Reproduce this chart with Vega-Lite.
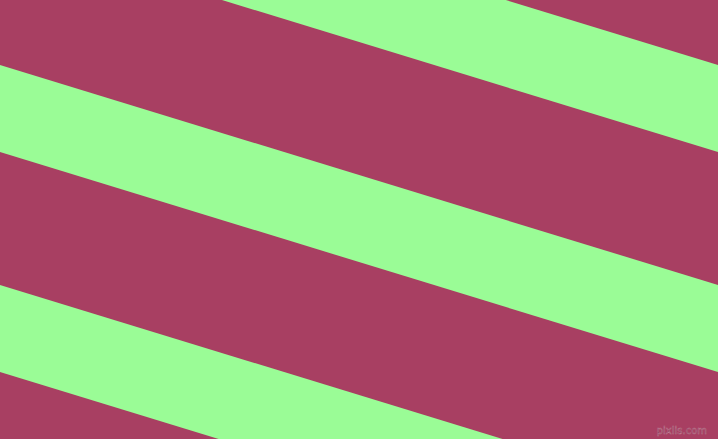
{
  "$schema": "https://vega.github.io/schema/vega-lite/v6.json",
  "width": 718,
  "height": 439,
  "autosize": {"type": "fit", "contains": "padding"},
  "padding": 0,
  "background": "#A83F62",
  "config": {"view": {"stroke": null}},
  "layer": [
    {
      "data": {
        "values": [
          {"stripe": "a", "x": 0, "top": -155, "bottom": -68},
          {"stripe": "a", "x": 718, "top": 65, "bottom": 152},
          {"stripe": "b", "x": 0, "top": 65, "bottom": 152},
          {"stripe": "b", "x": 718, "top": 285, "bottom": 372},
          {"stripe": "c", "x": 0, "top": 285, "bottom": 372},
          {"stripe": "c", "x": 718, "top": 505, "bottom": 592}
        ]
      },
      "mark": {"type": "area", "clip": true, "color": "#9AFC96", "orient": "vertical"},
      "encoding": {
        "x": {"field": "x", "type": "quantitative", "scale": {"domain": [0, 718], "nice": false, "zero": false}, "axis": null},
        "y": {"field": "top", "type": "quantitative", "scale": {"domain": [0, 439], "nice": false, "zero": false, "reverse": true}, "axis": null},
        "y2": {"field": "bottom"},
        "detail": {"field": "stripe"}
      }
    },
    {
      "data": {"values": [{"label": "pixlis.com", "x": 707, "y": 431}]},
      "mark": {"type": "text", "align": "right", "baseline": "middle", "fontSize": 10, "font": "DejaVu Sans", "color": "#5E2238", "stroke": "#C98AA0", "strokeWidth": 0.5, "opacity": 0.8},
      "encoding": {
        "x": {"field": "x", "type": "quantitative"},
        "y": {"field": "y", "type": "quantitative"},
        "text": {"field": "label"}
      }
    }
  ]
}
